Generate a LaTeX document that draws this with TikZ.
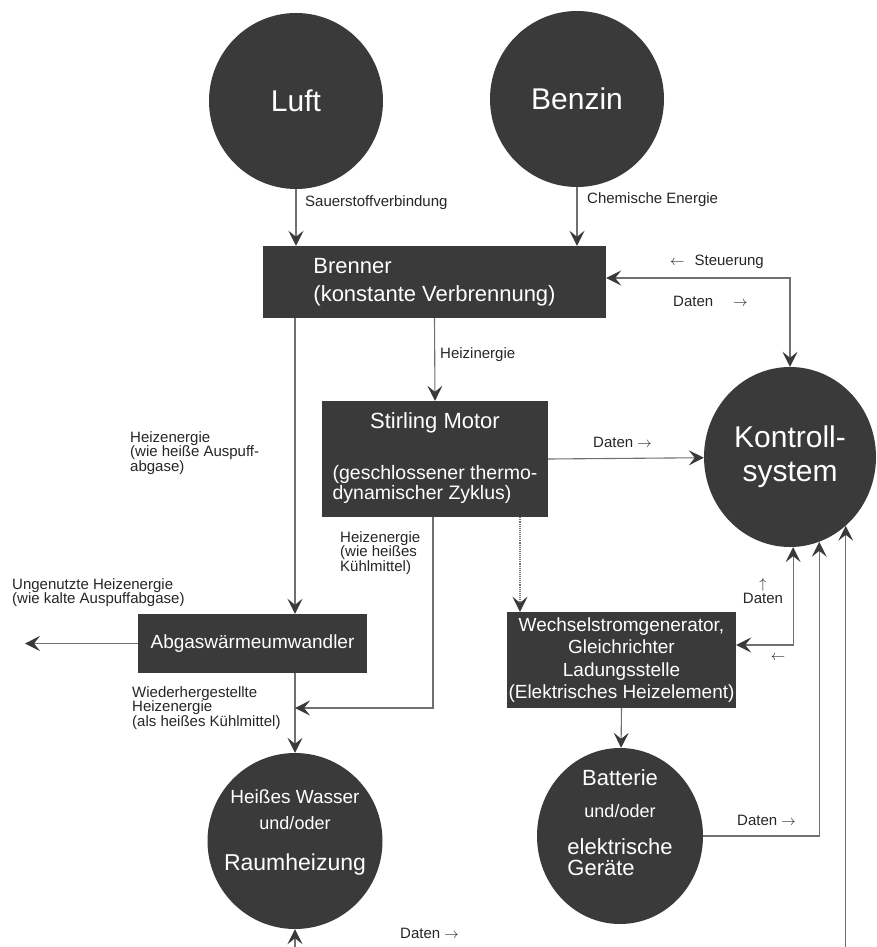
\documentclass[tikz,border=0pt]{standalone}
\usepackage{fontspec}
\setmainfont{Liberation Sans}
\usetikzlibrary{arrows.meta,shapes.geometric}
\definecolor{darkfill}{HTML}{3A3A3A}
\definecolor{linegray}{HTML}{707070}
\begin{document}
\begin{tikzpicture}[x=1pt,y=-1pt,
  >={Stealth[length=15pt,width=15pt,inset=6pt,color=darkfill]},
  blob/.style={ellipse,fill=darkfill,text=white,inner sep=0pt,minimum width=174pt,minimum height=176pt},
  dbox/.style={rectangle,fill=darkfill,text=white,inner sep=0pt},
  wtext/.style={text=white,inner sep=0pt},
  lbl/.style={font=\fontsize{15}{14.5}\selectfont,align=left,inner sep=0pt,text=black!85},
  conn/.style={draw=linegray,line width=1.1pt},
  flow/.style={conn,->}]
\useasboundingbox (0,0) rectangle (877,947);
\fill[white] (0,0) rectangle (877,947);

% main nodes
\node[blob] (luft) at (296,101) {\fontsize{30}{32}\selectfont Luft};
\node[blob] (benz) at (577,99) {\fontsize{30}{32}\selectfont Benzin};
\node[dbox,minimum width=343pt,minimum height=72pt,align=left,font=\fontsize{22}{28}\selectfont] (br) at (434.5,282) {Brenner\\(konstante Verbrennung)};
\node[dbox,minimum width=226pt,minimum height=116pt] (st) at (435,459) {\fontsize{19.5}{20}\selectfont\begin{tabular}{@{}l@{}}\multicolumn{1}{@{}c@{}}{\fontsize{22}{22}\selectfont Stirling Motor}\\[31pt](geschlossener thermo-\\dynamischer Zyklus)\end{tabular}};
\node[blob,minimum width=172pt,minimum height=180pt,align=center,font=\fontsize{30}{34}\selectfont] (k) at (790,457) {Kontroll-\\system};
\node[dbox,minimum width=229pt,minimum height=59pt,font=\fontsize{19}{19}\selectfont] (abg) at (252.5,643.5) {Abgaswärmeumwandler};
\node[dbox,minimum width=229pt,minimum height=96pt,align=center,font=\fontsize{19}{22.5}\selectfont] (wg) at (621.5,660) {Wechselstromgenerator,\\Gleichrichter\\Ladungsstelle\\(Elektrisches Heizelement)};
\node[blob,minimum width=175pt] (hw) at (295,841) {};
\node[wtext] (hwt) at (295,833) {\fontsize{19}{21}\selectfont\begin{tabular}{@{}c@{}}Heißes Wasser\\[5pt]\fontsize{18}{18}\selectfont und/oder\\[18pt]\fontsize{23}{23}\selectfont Raumheizung\end{tabular}};
\node[blob,minimum width=166pt] (bat) at (620,836) {};
\node[wtext] (batt) at (620,826) {\fontsize{22}{23}\selectfont\begin{tabular}{@{}l@{}}\multicolumn{1}{@{}c@{}}{Batterie}\\[9pt]\multicolumn{1}{@{}c@{}}{\fontsize{18}{18}\selectfont und/oder}\\[14pt]elektrische\\[-2pt]Geräte\end{tabular}};

\coordinate (lend) at (25,643.5);
\coordinate (jn) at (295,708);
\coordinate (bot) at (600,965);

% connectors
\draw[flow] (luft) -- (luft |- br.north);
\draw[flow] (benz) -- (benz |- br.north);
\draw[conn,<->] ([yshift=4pt]br.east) -| (k.north);
\draw[flow] (br.south) -- (st.north);
\draw[flow] (br.south -| hw.north) -- (abg.north -| hw.north);
\draw[flow] (abg.west) -- (lend);
\draw[flow] (abg.south -| hw.north) -- (hw.north);
\draw[flow] ([xshift=-2pt]st.south) |- (jn);
\draw[flow,densely dotted] ([xshift=85pt]st.south) -- ([xshift=85pt]st.south |- wg.north);
\draw[flow] (st.east) -- (k);
\draw[flow] (wg.south) -- (bat);
\draw[conn,<->] ([yshift=15pt]wg.east) -| (k.-88);
\draw[flow] (bat.east) -| (k.-71);
\draw[conn,<->] (hw.south) |- (bot) -| (k.-51);

% labels
\node[lbl,anchor=west] (l1) at (305,203) {Sauerstoffverbindung};
\node[lbl,anchor=west] (l2) at (587,200) {Chemische Energie};
\node[lbl,anchor=west] (l3) at (670,262) {$\leftarrow$\hspace{10pt}Steuerung};
\node[lbl,anchor=west] (l4) at (673,301) {Daten\hspace{20pt}$\rightarrow$};
\node[lbl,anchor=west] (l5) at (440,355) {Heizinergie};
\node[lbl,anchor=north west] (l6) at (130,431) {Heizenergie\\(wie heiße Auspuff-\\abgase)};
\node[lbl,anchor=west] (l7) at (593,442) {Daten $\rightarrow$};
\node[lbl,anchor=north west] (l8) at (340,531) {Heizenergie\\(wie heißes\\Kühlmittel)};
\node[lbl,anchor=north west] (l9) at (12,578) {Ungenutzte Heizenergie\\(wie kalte Auspuffabgase)};
\node[lbl,anchor=north west] (l10) at (132,686) {Wiederhergestellte\\Heizenergie\\(als heißes Kühlmittel)};
\node[lbl,align=center] (l11) at (763,591) {$\uparrow$\\Daten};
\node[lbl] (l12) at (778,658) {$\leftarrow$};
\node[lbl,anchor=west] (l13) at (737,820) {Daten $\rightarrow$};
\node[lbl,anchor=west] (l14) at (400,933) {Daten $\rightarrow$};
\end{tikzpicture}
\end{document}
